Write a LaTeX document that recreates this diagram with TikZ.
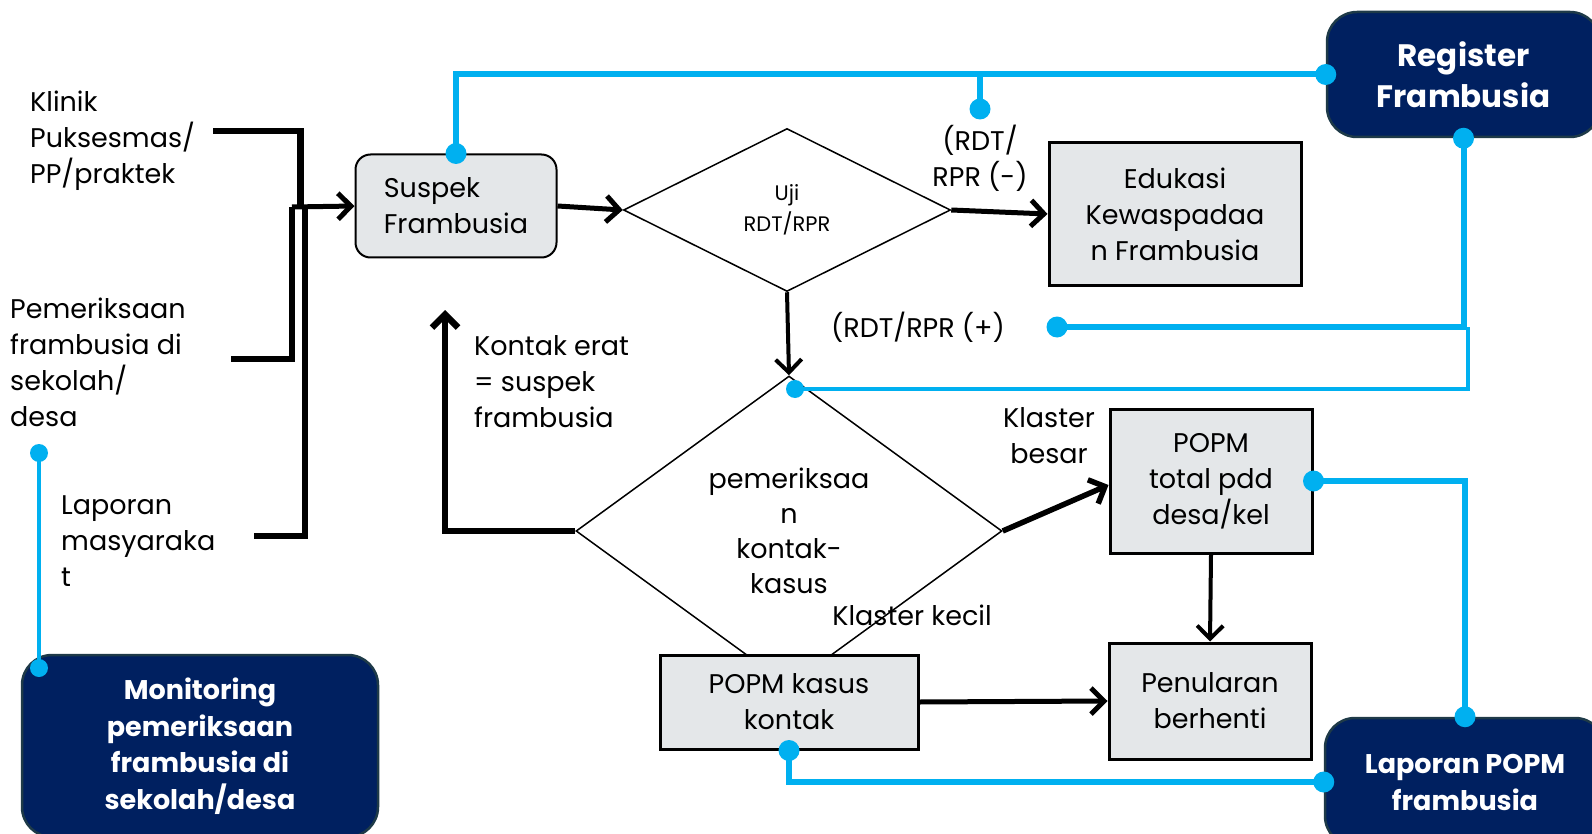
\documentclass[tikz,border=0pt]{standalone}
\usepackage{fontspec}
\setmainfont{Poppins}
\usetikzlibrary{arrows.meta,positioning,shapes.geometric}
\definecolor{navybox}{RGB}{0,32,96}
\definecolor{navyedge}{RGB}{30,58,72}
\definecolor{cyanline}{RGB}{0,176,240}
\definecolor{boxgray}{RGB}{228,231,233}

\begin{document}
\begin{tikzpicture}[
  x=1pt, y=-1pt,
  txt/.style={font=\fontsize{27}{36}\selectfont, align=left, inner sep=0pt},
  lbl/.style={font=\fontsize{27}{36}\selectfont, align=center, inner sep=0pt},
  proc/.style={rectangle, draw, line width=3pt, fill=boxgray, font=\fontsize{27}{36}\selectfont, align=center, inner sep=0pt},
  susp/.style={rectangle, draw, line width=2pt, fill=boxgray, rounded corners=15pt, font=\fontsize{27}{36}\selectfont, align=left, inner sep=0pt},
  dec/.style={diamond, draw, line width=1.5pt, inner sep=0pt, align=center},
  navy/.style={rectangle, rounded corners=30pt, fill=navybox, draw=navyedge, line width=2.5pt, text=white, align=center, inner sep=0pt},
  flow/.style={-{Straight Barb[length=13pt,width=26pt]}, line width=5pt},
  bracket/.style={line width=6.5pt},
  link/.style={cyanline, line width=6pt},
  thinlink/.style={cyanline, line width=4pt}
]
  \useasboundingbox (0,0) rectangle (1592,834);

  % source texts on the left
  \node[txt, anchor=west] (klinik) at (30,141) {Klinik\\Puksesmas/\\PP/praktek};
  \node[txt, anchor=west] (sekolah) at (10,362) {Pemeriksaan\\frambusia di\\sekolah/\\desa};
  \node[txt, anchor=west] (lapmas) at (61,541) {Laporan\\masyaraka\\t};

  % main flow
  \node[susp, minimum width=201pt, minimum height=103pt] (susp) at (456,206) {Suspek\\Frambusia};
  \node[dec, minimum width=327pt, minimum height=163pt, font=\fontsize{21}{31}\selectfont] (uji) at (787,210) {Uji\\RDT/RPR};
  \node[proc, minimum width=252pt, minimum height=142pt] (edu) at (1175,214) {Edukasi\\Kewaspadaa\\n Frambusia};
  \node[dec, minimum width=426pt, minimum height=310pt, font=\fontsize{27}{35}\selectfont] (pem) at (789,531) {pemeriksaa\\n\\kontak-\\kasus};
  \node[proc, minimum width=202pt, minimum height=144pt] (popmt) at (1211,481) {POPM\\total pdd\\desa/kel};
  \node[proc, minimum width=202pt, minimum height=116pt] (henti) at (1210,701) {Penularan\\berhenti};
  \node[proc, minimum width=258pt, minimum height=94pt] (kasus) at (789,702) {POPM kasus\\kontak};

  % reporting boxes
  \node[navy, minimum width=273pt, minimum height=125pt, font=\fontsize{31}{41}\selectfont\bfseries] (reg) at (1463.5,74.5) {Register\\Frambusia};
  \node[navy, minimum width=356pt, minimum height=182pt, font=\fontsize{27}{36.5}\selectfont\bfseries] (mon) at (200,746) {Monitoring\\pemeriksaan\\frambusia di\\sekolah/desa};
  \node[navy, minimum width=280pt, minimum height=128pt, font=\fontsize{27}{37}\selectfont\bfseries] (lap) at (1465,782) {Laporan POPM\\frambusia};

  % edge labels
  \node[lbl] (neg) at (980,158) {(RDT/\\RPR (-)};
  \node[lbl] (pos) at (918,327) {(RDT/RPR (+)};
  \node[lbl] (besar) at (1049,436) {Klaster\\besar};
  \node[lbl] (kecil) at (912,615) {Klaster kecil};
  \node[txt, anchor=west] (erat) at (474,382) {Kontak erat\\= suspek\\frambusia};

  % free ends
  \coordinate (k1) at (213,131);
  \coordinate (k2) at (231,359);
  \coordinate (k3) at (254,536);
  \coordinate (join) at (292,207);
  \coordinate (back) at (445,310);
  \coordinate (rdtneg) at (980,109);
  \coordinate (rdtpos) at (1057,327);
  \coordinate (pemdot) at (795,389);
  \coordinate (montop) at (39,453);
  \coordinate (mondot) at (39,668);

  % black flow
  \draw[bracket] (k1) -| (300.5,207);
  \draw[bracket] (k2) -| (join);
  \draw[bracket] (k3) -| (305,207);
  \draw[flow] (join) -- (susp.west);
  \draw[flow] (susp.east) -- (uji.west);
  \draw[flow] (uji.east) -- (edu.west);
  \draw[flow, line width=4pt] (uji.south) -- (pem.north);
  \draw[flow, line width=6.5pt] (pem.west) -| (back);
  \draw[flow, line width=5.5pt] (pem.east) -- ([yshift=-4pt]popmt.west);
  \draw[flow, line width=4pt] (popmt.south) -- (henti.north);
  \draw[flow] (kasus.east) -- (henti.west);

  % reporting links
  \draw[link] (susp.north) |- (reg.west);
  \draw[link] (rdtneg |- reg.west) -- (rdtneg);
  \draw[link] (reg.south) |- (rdtpos);
  \draw[thinlink] ([xshift=4pt]reg.south |- rdtpos) |- (pemdot);
  \draw[link] (popmt.east) -| (lap.north);
  \draw[link] (kasus.south) |- (lap.west);
  \draw[thinlink] (montop) -- (mondot);
  \foreach \p in {susp.north, reg.west, rdtneg, reg.south, rdtpos, popmt.east, lap.north, kasus.south, lap.west}
    \fill[cyanline] (\p) circle (10.5);
  \foreach \p in {pemdot, montop, mondot}
    \fill[cyanline] (\p) circle (9);
\end{tikzpicture}
\end{document}
